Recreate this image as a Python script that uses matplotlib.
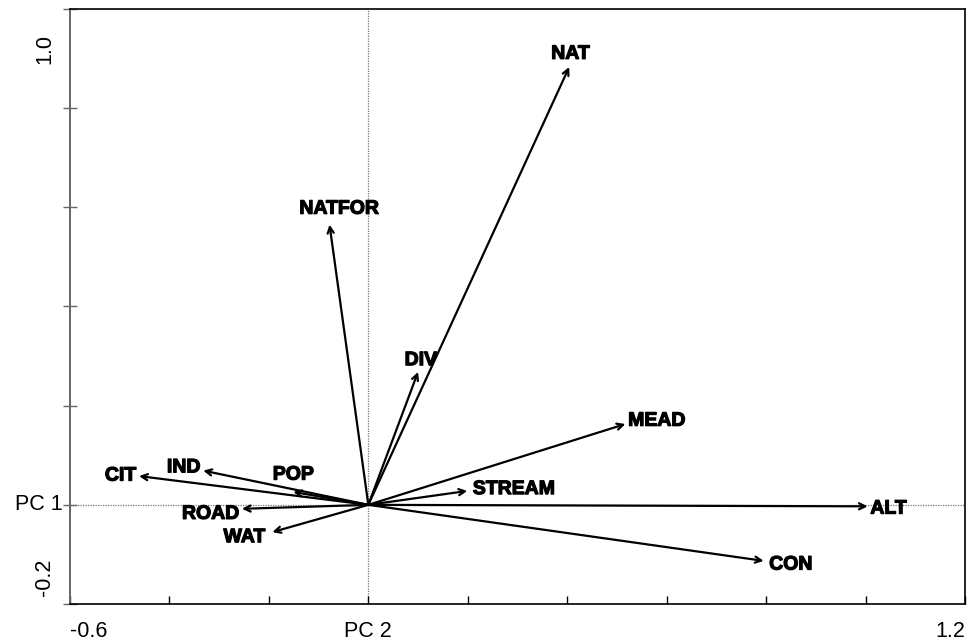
import numpy as np
import matplotlib
matplotlib.use("Agg")
import matplotlib.pyplot as plt
import matplotlib.transforms as mtransforms
import matplotlib.patheffects as pe

plt.rcParams['font.family'] = ['Liberation Sans', 'DejaVu Sans']

# =============================================================================
# Loadings
# =============================================================================

variables = ['NAT', 'NATFOR', 'DIV', 'MEAD', 'STREAM', 'ALT', 'CON',
             'CIT', 'IND', 'POP', 'ROAD', 'WAT']
pc2 = [0.404, -0.078, 0.100, 0.517, 0.199, 1.004, 0.795,
       -0.461, -0.332, -0.151, -0.254, -0.193]
pc1 = [0.883, 0.565, 0.268, 0.163, 0.028, -0.003, -0.113,
       0.058, 0.069, 0.026, -0.008, -0.055]

# label placement: (dx, dy) in points, ha, va
label_style = {
    'NAT':    ((1, 3), 'center', 'bottom'),
    'NATFOR': ((7, 5), 'center', 'bottom'),
    'DIV':    ((2, 2), 'center', 'bottom'),
    'MEAD':   ((2, 2), 'left', 'center'),
    'STREAM': ((4, 1), 'left', 'center'),
    'ALT':    ((2, -2), 'left', 'center'),
    'CON':    ((4, -3), 'left', 'center'),
    'CIT':    ((-2, 0), 'right', 'center'),
    'IND':    ((-2, 2), 'right', 'center'),
    'POP':    ((0, 6), 'center', 'bottom'),
    'ROAD':   ((-2, -4), 'right', 'center'),
    'WAT':    ((-5, -4), 'right', 'center'),
}

fig = plt.figure(figsize=(9.69, 6.41), dpi=100)
ax = fig.add_axes([0.0722, 0.0577, 0.9237, 0.9283])

ax.set_xlim(-0.6, 1.2)
ax.set_ylim(-0.2, 1.0)

# zero lines
ax.axhline(0, color='#777777', lw=0.9, ls=(0, (1, 1)), zorder=1)
ax.axvline(0, color='#777777', lw=0.9, ls=(0, (1, 1)), zorder=1)

heavy = [pe.withStroke(linewidth=0.9, foreground='black')]
for name, x, y in zip(variables, pc2, pc1):
    ax.annotate('', xy=(x, y), xytext=(0, 0),
                arrowprops=dict(arrowstyle='->', color='black', lw=1.6,
                                mutation_scale=11, shrinkA=0, shrinkB=0),
                zorder=3)
    (dx, dy), ha, va = label_style[name]
    ax.annotate(name, xy=(x, y), xytext=(dx, dy), textcoords='offset points',
                ha=ha, va=va, fontsize=14, fontweight='bold', zorder=4,
                path_effects=heavy)

# ticks without labels
ax.set_xticks(np.arange(-0.6, 1.21, 0.2))
ax.set_yticks(np.arange(-0.2, 1.01, 0.2))
ax.set_xticklabels([])
ax.set_yticklabels([])
ax.tick_params(axis='x', direction='in', length=6, width=1)
ax.tick_params(axis='y', direction='inout', length=10, width=1, color='#666666')

for side in ['top', 'bottom', 'right']:
    ax.spines[side].set_linewidth(1.2)
ax.spines['left'].set_color('#666666')
ax.spines['left'].set_linewidth(1.4)

# end labels, placed like the original
xtrans = mtransforms.blended_transform_factory(ax.transData, ax.transAxes)
ytrans = mtransforms.blended_transform_factory(ax.transAxes, ax.transData)
ax.text(-0.6, -0.055, '-0.6', transform=xtrans, ha='left', va='baseline', fontsize=15.5)
ax.text(0.0, -0.055, 'PC 2', transform=xtrans, ha='center', va='baseline', fontsize=15.5)
ax.text(1.2, -0.055, '1.2', transform=xtrans, ha='right', va='baseline', fontsize=15.5)

ax.text(-0.008, 0.0, 'PC 1', transform=ytrans, ha='right', va='center', fontsize=15.5)
ax.text(-0.028, 0.92, '1.0', transform=ytrans, ha='center', va='center',
        rotation=90, fontsize=15.5)
ax.text(-0.028, -0.147, '-0.2', transform=ytrans, ha='center', va='center',
        rotation=90, fontsize=15.5)

fig.savefig('out.png', dpi=100)
